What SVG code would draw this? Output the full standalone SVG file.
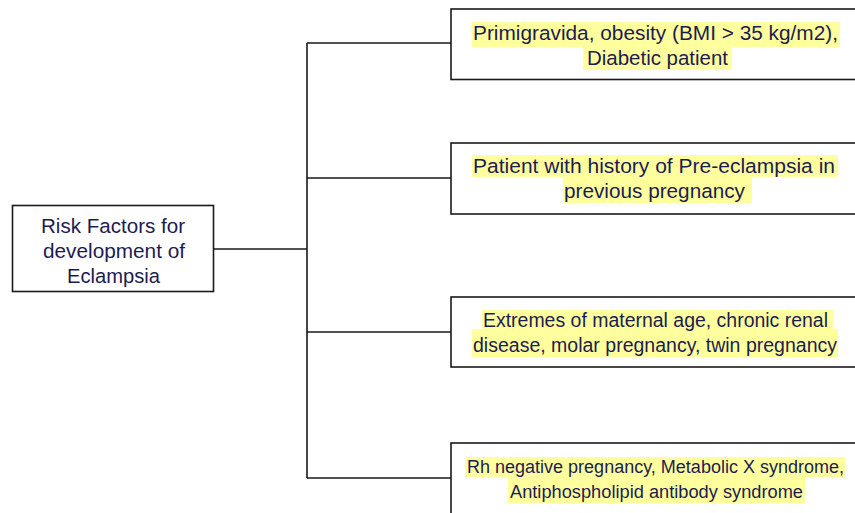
<svg xmlns="http://www.w3.org/2000/svg" width="855" height="513" viewBox="0 0 855 513">
<style>
.box{fill:#fff;stroke:#1a1a1a;stroke-width:1.6}
.hl{fill:#ffff9e}
.t{font-family:"Liberation Sans",Arial,sans-serif;font-size:20.5px;fill:#1c1c50;text-anchor:middle}
.s{font-size:19.5px}
.c{fill:none;stroke:#1a1a1a;stroke-width:1.6}
</style>
<rect width="855" height="513" fill="#fff"/>
<g id="connectors">
<path class="c" d="M214 249H307M307 43V478M307 43H451M307 178H451M307 332H451M307 478H451"/>
</g>
<g id="root">
<rect class="box" x="12.5" y="205.5" width="201" height="86"/>
<text class="t" x="113" y="233" textLength="144" lengthAdjust="spacingAndGlyphs">Risk Factors for</text>
<text class="t" x="114" y="258" textLength="142" lengthAdjust="spacingAndGlyphs">development of</text>
<text class="t" x="113.5" y="283" textLength="93" lengthAdjust="spacingAndGlyphs">Eclampsia</text>
</g>
<g id="n1">
<rect class="box" x="451" y="9" width="420" height="70.5"/>
<rect class="hl" x="472" y="22" width="368" height="25"/>
<rect class="hl" x="583" y="47" width="149" height="23"/>
<text class="t" x="655.5" y="40" textLength="365" lengthAdjust="spacingAndGlyphs">Primigravida, obesity (BMI &gt; 35 kg/m2),</text>
<text class="t" x="657.5" y="65" textLength="141" lengthAdjust="spacingAndGlyphs">Diabetic patient</text>
</g>
<g id="n2">
<rect class="box" x="451" y="143" width="420" height="71"/>
<rect class="hl" x="472" y="155" width="366" height="22"/>
<rect class="hl" x="563" y="177" width="189" height="26"/>
<text class="t" x="654" y="173" textLength="362" lengthAdjust="spacingAndGlyphs">Patient with history of Pre-eclampsia in</text>
<text class="t" x="654.5" y="198" textLength="181" lengthAdjust="spacingAndGlyphs">previous pregnancy</text>
</g>
<g id="n3">
<rect class="box" x="451" y="297" width="420" height="70"/>
<rect class="hl" x="482" y="310" width="351" height="19"/>
<rect class="hl" x="472" y="329" width="366" height="28"/>
<text class="t s" x="655.5" y="327" textLength="345" lengthAdjust="spacingAndGlyphs">Extremes of maternal age, chronic renal</text>
<text class="t s" x="655" y="352" textLength="364" lengthAdjust="spacingAndGlyphs">disease, molar pregnancy, twin pregnancy</text>
</g>
<g id="n4">
<rect class="box" x="451" y="443" width="420" height="90"/>
<rect class="hl" x="465" y="457" width="380" height="20"/>
<rect class="hl" x="508" y="477" width="297" height="26"/>
<text class="t" x="655.5" y="473" textLength="377" lengthAdjust="spacingAndGlyphs" style="font-size:18.8px">Rh negative pregnancy, Metabolic X syndrome,</text>
<text class="t" x="656.5" y="498" textLength="293" lengthAdjust="spacingAndGlyphs" style="font-size:18.8px">Antiphospholipid antibody syndrome</text>
</g>
</svg>
